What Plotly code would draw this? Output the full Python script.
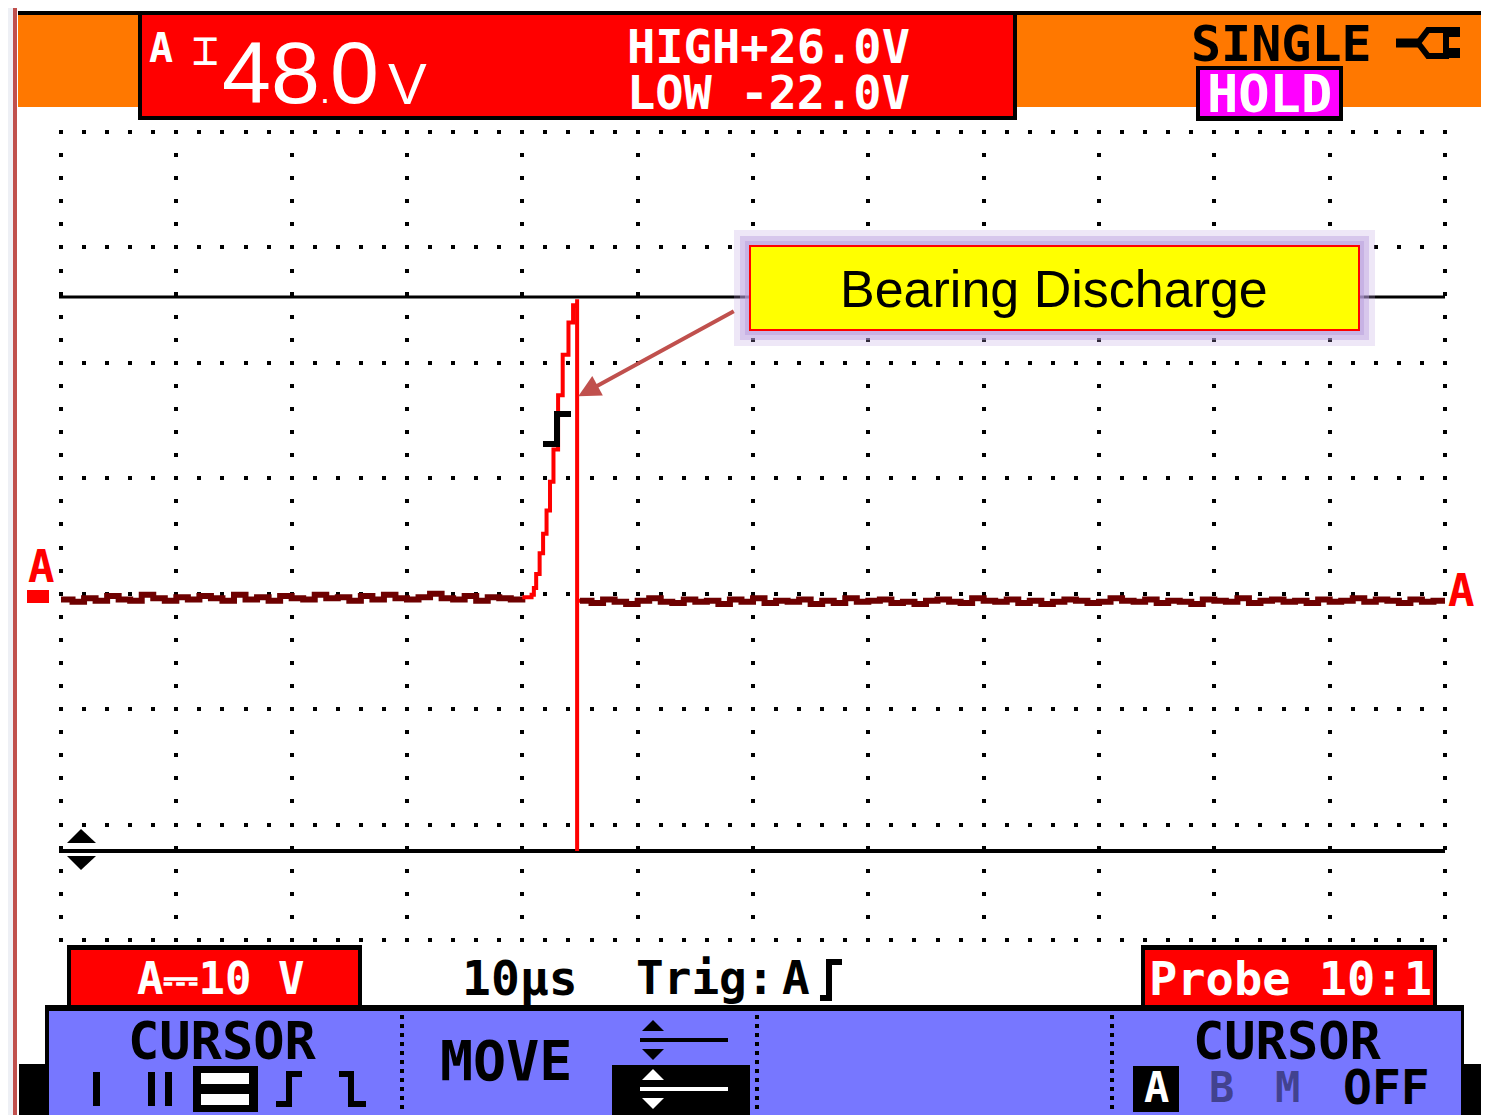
import plotly.graph_objects as go

# ---------------- data (volts vs microseconds) ----------------
V_LEFT = [-0.2, -0.4, -0.1, -0.3, 0.1, -0.2, -0.3, 0.2, -0.1, -0.3,
          0.0, -0.2, 0.1, -0.1, -0.3, 0.2, -0.2, 0.0, -0.3, 0.1,
          -0.1, -0.2, 0.2, -0.1, 0.0, -0.3, 0.1, -0.2, 0.2, -0.1,
          -0.2, 0.0, 0.3, -0.1, -0.2, 0.1, -0.3, 0.0, -0.1, -0.2,
          0.0]
T_LEFT = [0 + i for i in range(len(V_LEFT))]

T_SPIKE = [40.0, 40.8, 41.0, 41.2, 41.5, 41.8, 42.1, 42.4, 42.7, 43.1, 43.5, 44.0, 44.4, 44.75, 44.75, 44.75, 45.0]
V_SPIKE = [0.0, 0.2, 0.8, 2.0, 3.8, 5.5, 7.5, 10.0, 12.8, 17.5, 21.0, 23.8, 25.3, 25.8, -22.0, -0.3, -0.3]

V_RIGHT = [-0.3, -0.5, -0.2, -0.4, -0.6, -0.3, -0.1, -0.4, -0.5, -0.2,
           -0.4, -0.3, -0.6, -0.2, -0.4, -0.1, -0.5, -0.3, -0.4, -0.2,
           -0.6, -0.3, -0.5, -0.1, -0.4, -0.3, -0.2, -0.5, -0.4, -0.6,
           -0.3, -0.2, -0.4, -0.5, -0.1, -0.3, -0.4, -0.2, -0.5, -0.3,
           -0.6, -0.4, -0.2, -0.3, -0.5, -0.4, -0.1, -0.3, -0.4, -0.2,
           -0.5, -0.3, -0.4, -0.6, -0.2, -0.3, -0.4, -0.1, -0.5, -0.3,
           -0.2, -0.4, -0.3, -0.5, -0.2, -0.4, -0.3, -0.1, -0.4, -0.2,
           -0.3, -0.5, -0.2, -0.4, -0.3, -0.3]
T_RIGHT = [45 + i for i in range(len(V_RIGHT))]

CURSOR_HIGH = 26.0
CURSOR_LOW = -22.0
TIME_RANGE = [0, 120]
VOLT_DIV = 10
TIME_DIV = 10

# ---------------- geometry helpers (reference pixel coords) ----------------
REF_W, REF_H = 1489, 1115
OFF = 8                      # page body margin of the html output
W, H = REF_W - OFF, REF_H - OFF
PL, PR, PT, PB = 59, 1447, 130, 942


def px(x):
    return (x - PL) / (PR - PL)


def py(y):
    return (PB - y) / (PB - PT)


shapes = []
annots = []


def rect(x0, y0, x1, y1, fill, line=None, lw=0, layer="above", opacity=1):
    shapes.append(dict(type="rect", xref="paper", yref="paper",
                       x0=px(x0), x1=px(x1), y0=py(y1), y1=py(y0),
                       fillcolor=fill, layer=layer, opacity=opacity,
                       line=dict(color=line or fill, width=lw)))


def path(points, color, width=0, fill=None, closed=False, dash=None):
    d = "M" + " L".join(f"{px(x):.5f},{py(y):.5f}" for x, y in points)
    if closed:
        d += " Z"
    shapes.append(dict(type="path", xref="paper", yref="paper", path=d,
                       fillcolor=fill if fill else "rgba(0,0,0,0)",
                       line=dict(color=color, width=width, dash=dash)))


def text(x, y, s, size, color="black", family=None, xanchor="center", bold=True):
    annots.append(dict(x=px(x), y=py(y), xref="paper", yref="paper", text=(f"<b>{s}</b>" if bold else s),
                       showarrow=False, xanchor=xanchor, yanchor="middle",
                       font=dict(size=size, color=color, family=family or MONO)))


MONO = "DejaVu Sans Mono, Liberation Mono, monospace"
SANS = "Liberation Sans, Arial, sans-serif"

# ---------------- frame / background ----------------
rect(0, 0, REF_W, 6, "#e3e6ed", layer="below")
rect(15, 6, 1487, REF_H + 5, "#ffffff", line="#c0504d", lw=4, layer="below")
# top bars
rect(18, 11, 1485, 15, "#000000")
rect(18, 15, 1485, 107, "#ff7800")
rect(138, 13, 1017, 120, "#000000")
rect(142, 15, 1013, 116, "#ff0000")
# HOLD box
rect(1196, 66, 1343, 121, "#000000")
rect(1200, 70, 1339, 116, "#ff00ff")
# plug icon
path([(1396, 43), (1418, 43)], "#000000", width=9)
path([(1418, 43), (1428, 30), (1446, 30), (1446, 56), (1428, 56), (1418, 43)], "#000000", width=6)
rect(1446, 27, 1460, 37, "#000000")
rect(1446, 48, 1460, 58, "#000000")

# bottom status row
rect(67, 945, 362, 1011, "#000000")
rect(71, 950, 358, 1007, "#ff0000")
rect(1141, 945, 1437, 1011, "#000000")
rect(1145, 950, 1433, 1007, "#ff0000")
# blue soft-key panel
rect(19, 1064, 48, REF_H + 2, "#000000")
rect(1462, 1064, 1489, REF_H + 2, "#000000")
rect(45, 1005, 1464, REF_H + 2, "#000000")
rect(49, 1011, 1461, REF_H + 2, "#7777ff")
for sx in (402, 757, 1112):
    path([(sx, 1015), (sx, 1112)], "#000000", width=4, dash="4px,5px")

# left soft key glyphs
rect(93, 1072, 100, 1106, "#000000")
rect(148, 1072, 155, 1106, "#000000")
rect(165, 1072, 172, 1106, "#000000")
rect(193, 1066, 258, 1112, "#000000")
rect(201, 1073, 249, 1084, "#ffffff")
rect(201, 1094, 249, 1105, "#ffffff")
path([(276, 1104), (289, 1104), (289, 1074), (302, 1074)], "#000000", width=6)
path([(339, 1074), (351, 1074), (351, 1104), (366, 1104)], "#000000", width=6)
# move icons
path([(642, 1031), (653, 1020), (664, 1031)], "#000000", fill="#000000", closed=True)
path([(640, 1040), (728, 1040)], "#000000", width=4)
path([(642, 1049), (664, 1049), (653, 1060)], "#000000", fill="#000000", closed=True)
rect(612, 1065, 750, REF_H + 2, "#000000")
path([(642, 1080), (653, 1069), (664, 1080)], "#ffffff", fill="#ffffff", closed=True)
path([(640, 1089), (728, 1089)], "#ffffff", width=4)
path([(642, 1098), (664, 1098), (653, 1109)], "#ffffff", fill="#ffffff", closed=True)
# right soft key
rect(1133, 1066, 1179, 1112, "#000000")
# trig symbol in status text
path([(820, 998), (829, 998), (829, 962), (842, 962)], "#000000", width=6)

# trigger marker on trace
path([(543, 444), (557, 444), (557, 414), (571, 414)], "#000000", width=6)

# ground marker bar
rect(27, 590, 49, 603, "#ff0000")
# cursor arrows
path([(67, 843), (81, 829), (96, 843)], "#000000", fill="#000000", closed=True)
path([(67, 856), (96, 856), (81, 870)], "#000000", fill="#000000", closed=True)

# callout box with glow
rect(734, 230, 1375, 346, "rgba(186,160,222,0.25)")
rect(740, 236, 1369, 340, "rgba(186,160,222,0.45)")
rect(745, 241, 1364, 335, "rgba(186,160,222,0.55)")
rect(750, 246, 1359, 330, "#ffff00", line="#ff0000", lw=2)

# ---------------- texts ----------------
text(161, 48, "A", 40, "white")
text(205, 50, "⌶", 44, "white", bold=False)
annots.append(dict(x=px(381), y=py(72), xref="paper", yref="paper", showarrow=False,
                   xanchor="right", yanchor="middle",
                   text="48<span style='font-size:36px'>.</span>0",
                   font=dict(size=88, color="white", family=SANS)))
text(407, 84, "V", 58, "white", SANS, bold=False)
text(912, 46, "HIGH+26.0V", 47, "white", xanchor="right")
text(912, 93, "LOW -22.0V", 47, "white", xanchor="right")
text(1281, 44, "SINGLE", 50, "black")
text(1269, 94, "HOLD", 52, "white")

text(220, 978, "A⎓10 V", 44, "white")
text(460, 978, "10µs", 48, "black", xanchor="left")
text(634, 978, "Trig:", 46, "black", xanchor="left")
text(796, 978, "A", 46, "black")
text(1290, 978, "Probe 10:1", 47, "white")

text(222, 1041, "CURSOR", 52, "black")
text(506, 1061, "MOVE", 55, "black")
text(1287, 1041, "CURSOR", 52, "black")
text(1156, 1087, "A", 42, "white")
text(1221, 1087, "B", 42, "rgba(0,0,0,0.45)")
text(1287, 1087, "M", 42, "rgba(0,0,0,0.45)")
text(1386, 1087, "OFF", 48, "black")

text(41, 566, "A", 44, "#ff0000")
text(1461, 590, "A", 44, "#ff0000")

annots.append(dict(x=px(1054), y=py(289), xref="paper", yref="paper", showarrow=False,
                   text="Bearing Discharge", xanchor="center", yanchor="middle",
                   font=dict(size=52, color="black", family=SANS)))

# arrow to discharge edge (data coords)
annots.append(dict(x=44.85, y=17.4, xref="x", yref="y", text="", showarrow=True,
                   ax=157, ay=-86, axref="pixel", ayref="pixel",
                   arrowcolor="#c0504d", arrowwidth=4, arrowhead=2, arrowsize=1.1))

# ---------------- traces ----------------
fig = go.Figure()
x_pad = 2 / ((PR - PL) / (TIME_RANGE[1] - TIME_RANGE[0]))
v_top, v_bot = 40.3, -29.7
v_pad = 2 / (808 / (v_top - v_bot))

fig.add_trace(go.Scatter(x=[-0.25, TIME_RANGE[1]], y=[CURSOR_HIGH, CURSOR_HIGH], mode="lines",
                         line=dict(color="black", width=3), hoverinfo="skip"))
fig.add_trace(go.Scatter(x=[-0.25, TIME_RANGE[1]], y=[CURSOR_LOW, CURSOR_LOW], mode="lines",
                         line=dict(color="black", width=4), hoverinfo="skip"))
fig.add_trace(go.Scatter(x=T_LEFT, y=V_LEFT, mode="lines", line=dict(color="#6e0000", width=6, shape="hv")))
fig.add_trace(go.Scatter(x=T_RIGHT, y=V_RIGHT, mode="lines", line=dict(color="#6e0000", width=6, shape="hv")))
fig.add_trace(go.Scatter(x=T_SPIKE, y=V_SPIKE, mode="lines", line=dict(color="#ff0000", width=4, shape="hv")))

fig.update_layout(
    width=W, height=H, autosize=False,
    margin=dict(l=PL - OFF, r=REF_W - PR, t=PT - OFF, b=REF_H - PB, pad=0),
    paper_bgcolor="#eef0f5", plot_bgcolor="#ffffff",
    showlegend=False,
    shapes=shapes, annotations=annots,
    xaxis=dict(range=[TIME_RANGE[0] - x_pad, TIME_RANGE[1] + x_pad], tick0=0, dtick=TIME_DIV,
               showticklabels=False, ticks="", zeroline=False, showline=False,
               showgrid=True, gridcolor="#000000", gridwidth=4, griddash="4px,19.086px"),
    yaxis=dict(range=[v_bot - v_pad, v_top + v_pad], tick0=0.3, dtick=VOLT_DIV,
               showticklabels=False, ticks="", zeroline=False, showline=False,
               showgrid=True, gridcolor="#000000", gridwidth=4, griddash="4px,19.067px"),
)

fig.write_html("out.html")
